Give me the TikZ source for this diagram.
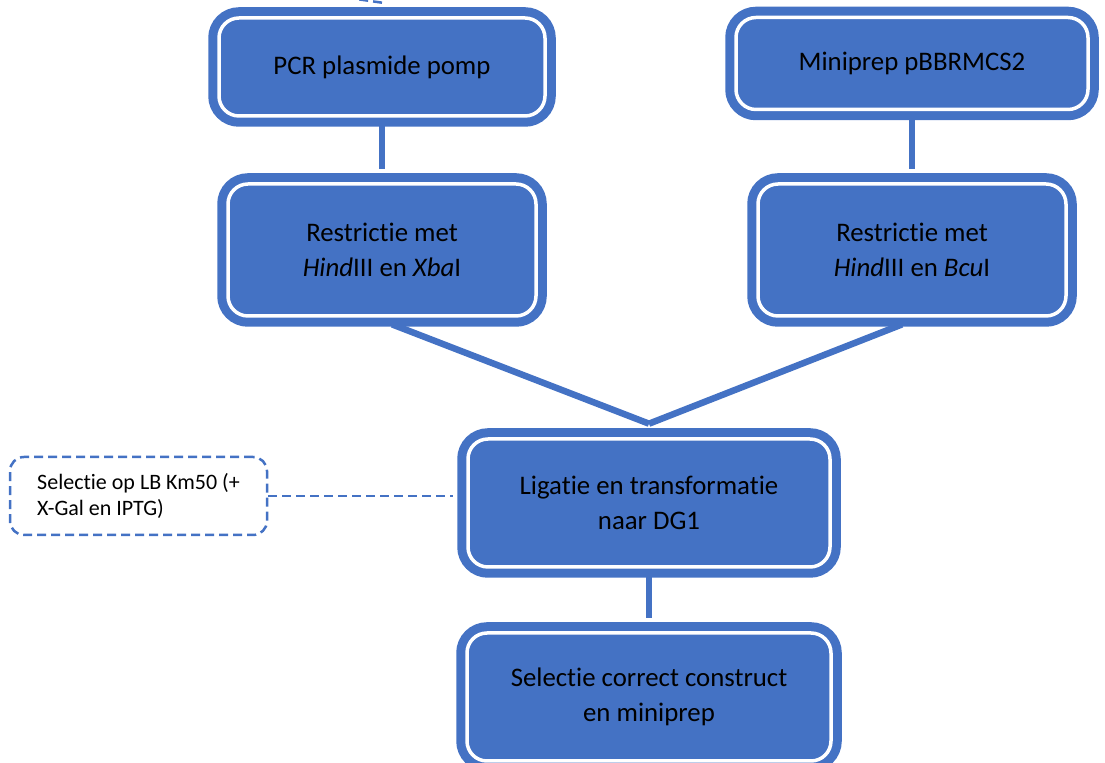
\documentclass[tikz,border=0pt]{standalone}
\usepackage{fontspec}
\setmainfont{Carlito}[Ligatures=NoCommon]
\definecolor{smartblue}{HTML}{4472C4}

\begin{document}
\begin{tikzpicture}[x=0.5pt,y=-0.5pt,
	box/.style={draw=smartblue,fill=smartblue,line width=4.5pt,double=white,double distance=1.75pt,
		rounded corners=10pt,align=center,inner sep=0pt,font=\fontsize{13.4}{17.5}\selectfont},
	note/.style={draw=smartblue,dash pattern=on 4.5pt off 2.5pt,line width=1.25pt,rounded corners=7pt,
		align=left,inner sep=0pt,minimum width=128.5pt,minimum height=39pt,font=\fontsize{11}{13}\selectfont},
	link/.style={draw=smartblue,line width=3.25pt},
	dashlink/.style={draw=smartblue,dash pattern=on 4.5pt off 2.5pt,line width=1.25pt}]
\useasboundingbox (0,0) rectangle (1105,763);

\node[box,minimum width=163pt,minimum height=49pt] (pcr) at (382,67) {PCR plasmide pomp};
\node[box,minimum width=176pt,minimum height=46pt] (mini) at (912,63.5) {Miniprep pBBRMCS2};
\node[box,minimum width=154pt,minimum height=66pt] (resxba) at (382,250)
	{Restrictie met\\\textit{Hind}III en \textit{Xba}I};
\node[box,minimum width=154pt,minimum height=66pt] (resbcu) at (912,250)
	{Restrictie met\\\textit{Hind}III en \textit{Bcu}I};
\node[box,minimum width=181pt,minimum height=64pt] (lig) at (649,503)
	{Ligatie en transformatie\\naar DG1};
\node[box,minimum width=182pt,minimum height=64pt] (sel) at (649,697)
	{Selectie correct construct\\en miniprep};
\node[note] (km) at (138.5,496) {Selectie op LB Km50 (+\\X-Gal en IPTG)};

\coordinate (ligtop) at ([yshift=5.4pt]lig.north);
\coordinate (offtop) at (335,-4);

\draw[link,shorten >=5.4pt] (pcr.south) -- (resxba.north);
\draw[link,shorten >=5.4pt] (mini.south) -- (resbcu.north);
\draw[link,shorten <=5.4pt] (resxba.south) -- (ligtop);
\draw[link,shorten <=5.4pt] (resbcu.south) -- (ligtop);
\draw[link,shorten >=5.4pt] (lig.south) -- (sel.north);
\draw[dashlink,shorten >=5.4pt] (km.east) -- (km.east -| lig.west);
\draw[dashlink] ([yshift=5.4pt]pcr.north) -- (offtop);
\end{tikzpicture}
\end{document}
